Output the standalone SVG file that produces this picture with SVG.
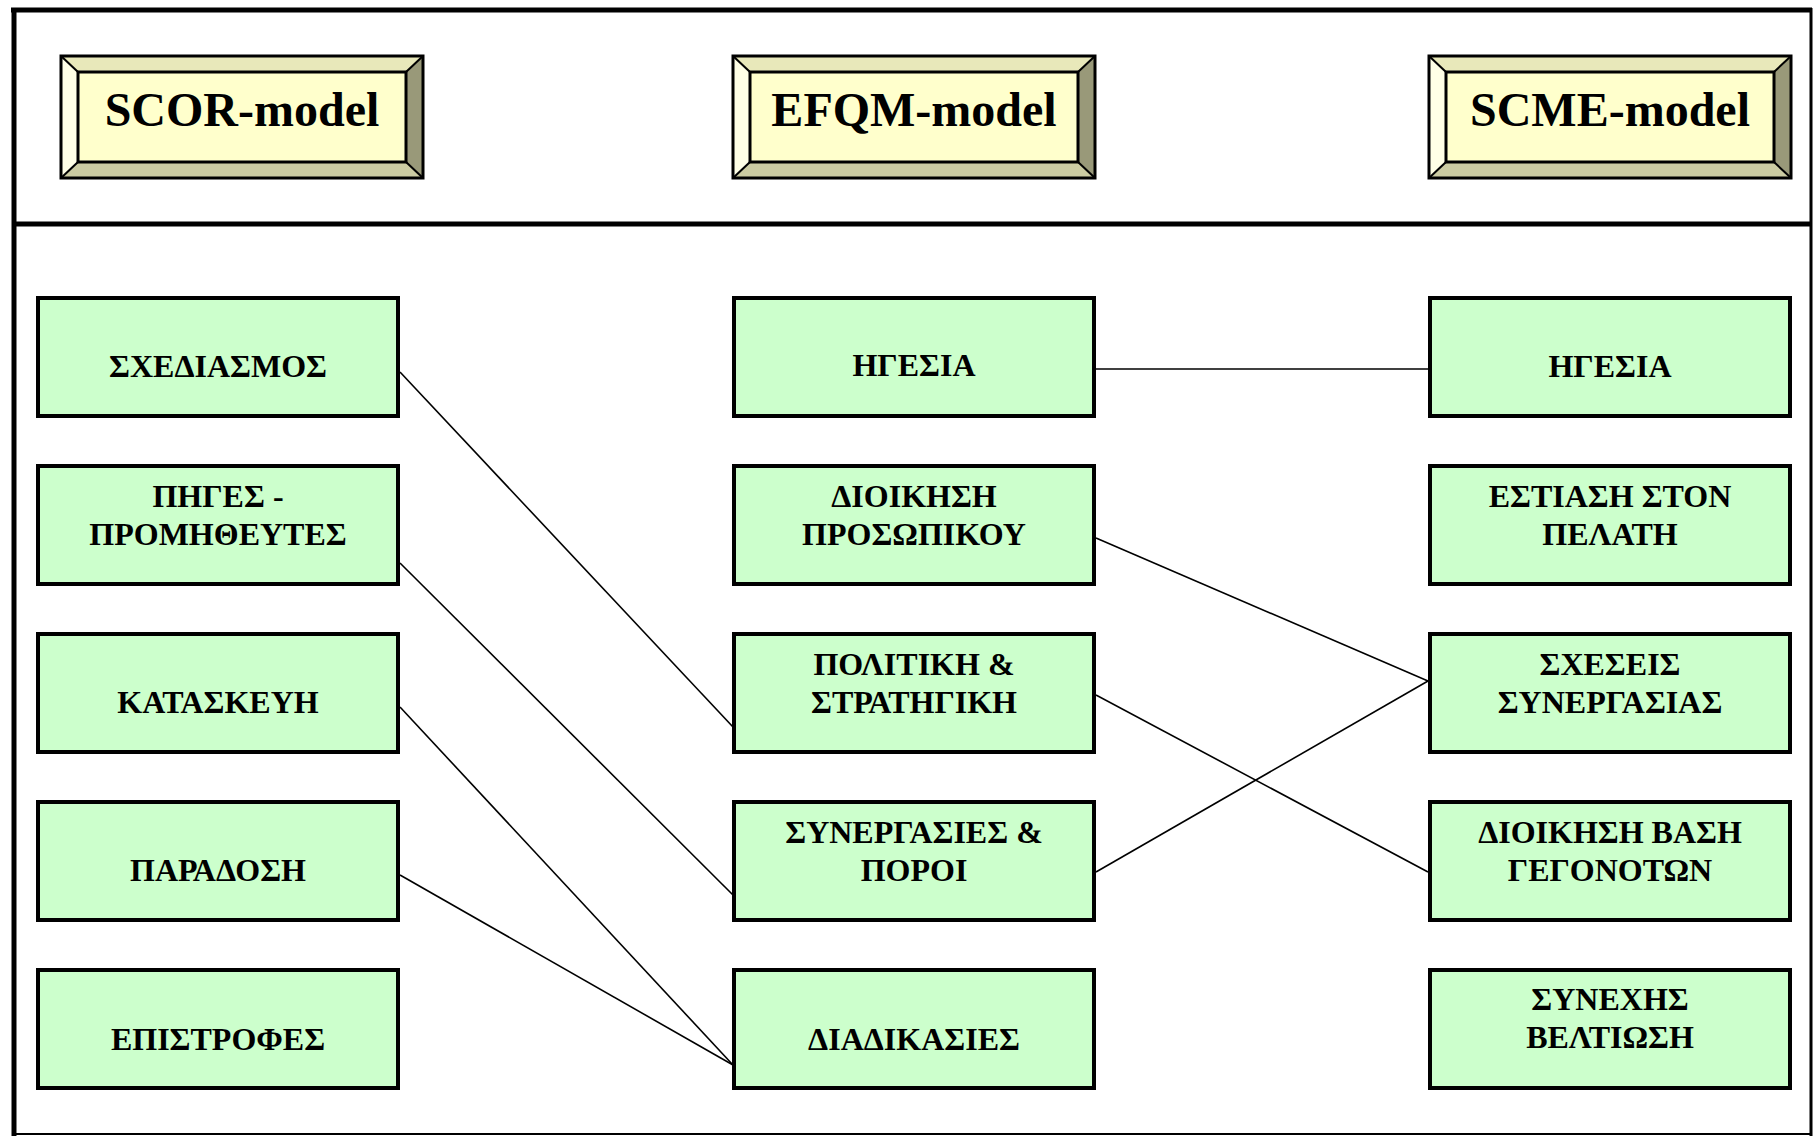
<svg xmlns="http://www.w3.org/2000/svg" width="1816" height="1136" viewBox="0 0 1816 1136">
<style>
.frame{stroke:#000;fill:none}
.box{fill:#CCFFCC;stroke:#000;stroke-width:4}
.lbl{font-family:"Liberation Serif","Times New Roman",serif;font-weight:bold;font-size:32px;text-anchor:middle;fill:#000}
.ttl{font-family:"Liberation Serif","Times New Roman",serif;font-weight:bold;font-size:48px;text-anchor:middle;fill:#000}
.face{fill:#FFFFCC;stroke:#000;stroke-width:3}
.bt{fill:#E8E8BA}
.bl{fill:#FFFFE6}
.br{fill:#999979}
.bb{fill:#CCCCA3}
.edge{stroke:#000;stroke-width:1.6;fill:none}
</style>
<defs>
<g id="bevel">
<polygon class="bt" points="0,0 362,0 345,16 17,16"/>
<polygon class="bl" points="0,0 17,16 17,106 0,122"/>
<polygon class="br" points="362,0 362,122 345,106 345,16"/>
<polygon class="bb" points="0,122 17,106 345,106 362,122"/>
<rect x="0" y="0" width="362" height="122" fill="none" stroke="#000" stroke-width="3"/>
<rect class="face" x="17" y="16" width="328" height="90"/>
<line x1="0" y1="0" x2="17" y2="16" stroke="#000" stroke-width="2"/>
<line x1="362" y1="0" x2="345" y2="16" stroke="#000" stroke-width="2"/>
<line x1="0" y1="122" x2="17" y2="106" stroke="#000" stroke-width="2"/>
<line x1="362" y1="122" x2="345" y2="106" stroke="#000" stroke-width="2"/>
</g>
</defs>
<rect x="0" y="0" width="1816" height="1136" fill="#fff"/>
<g id="frame">
<line class="frame" x1="11" y1="10" x2="1812" y2="10" stroke-width="5"/>
<line class="frame" x1="14" y1="8" x2="14" y2="1136" stroke-width="5"/>
<line class="frame" x1="1811" y1="8" x2="1811" y2="1136" stroke-width="3"/>
<line class="frame" x1="12" y1="224" x2="1812" y2="224" stroke-width="5"/>
<line class="frame" x1="12" y1="1134" x2="1812" y2="1134" stroke-width="2"/>
</g>
<g id="connectors">
<line class="edge" x1="1096" y1="369" x2="1428" y2="369"/>
<line class="edge" x1="400" y1="372" x2="733" y2="727"/>
<line class="edge" x1="400" y1="563" x2="733" y2="895"/>
<line class="edge" x1="400" y1="707" x2="733" y2="1065"/>
<line class="edge" x1="400" y1="875" x2="733" y2="1065"/>
<line class="edge" x1="1096" y1="538" x2="1428" y2="681"/>
<line class="edge" x1="1096" y1="695" x2="1428" y2="872"/>
<line class="edge" x1="1096" y1="872" x2="1428" y2="681"/>
</g>
<g id="h-scor"><use href="#bevel" x="61" y="56"/><text class="ttl" x="242" y="126">SCOR-model</text></g>
<g id="h-efqm"><use href="#bevel" x="733" y="56"/><text class="ttl" x="914" y="126">EFQM-model</text></g>
<g id="h-scme"><use href="#bevel" x="1429" y="56"/><text class="ttl" x="1610" y="126">SCME-model</text></g>

<g id="s1"><rect class="box" x="38" y="298" width="360" height="118"/><text class="lbl" x="218" y="377">ΣΧΕΔΙΑΣΜΟΣ</text></g>
<g id="s2"><rect class="box" x="38" y="466" width="360" height="118"/><text class="lbl" x="218" y="507">ΠΗΓΕΣ -</text><text class="lbl" x="218" y="545">ΠΡΟΜΗΘΕΥΤΕΣ</text></g>
<g id="s3"><rect class="box" x="38" y="634" width="360" height="118"/><text class="lbl" x="218" y="713">ΚΑΤΑΣΚΕΥΗ</text></g>
<g id="s4"><rect class="box" x="38" y="802" width="360" height="118"/><text class="lbl" x="218" y="881">ΠΑΡΑΔΟΣΗ</text></g>
<g id="s5"><rect class="box" x="38" y="970" width="360" height="118"/><text class="lbl" x="218" y="1050">ΕΠΙΣΤΡΟΦΕΣ</text></g>

<g id="e1"><rect class="box" x="734" y="298" width="360" height="118"/><text class="lbl" x="914" y="376">ΗΓΕΣΙΑ</text></g>
<g id="e2"><rect class="box" x="734" y="466" width="360" height="118"/><text class="lbl" x="914" y="507">ΔΙΟΙΚΗΣΗ</text><text class="lbl" x="914" y="545">ΠΡΟΣΩΠΙΚΟΥ</text></g>
<g id="e3"><rect class="box" x="734" y="634" width="360" height="118"/><text class="lbl" x="914" y="675">ΠΟΛΙΤΙΚΗ &amp;</text><text class="lbl" x="914" y="713">ΣΤΡΑΤΗΓΙΚΗ</text></g>
<g id="e4"><rect class="box" x="734" y="802" width="360" height="118"/><text class="lbl" x="914" y="843">ΣΥΝΕΡΓΑΣΙΕΣ &amp;</text><text class="lbl" x="914" y="881">ΠΟΡΟΙ</text></g>
<g id="e5"><rect class="box" x="734" y="970" width="360" height="118"/><text class="lbl" x="914" y="1050">ΔΙΑΔΙΚΑΣΙΕΣ</text></g>

<g id="m1"><rect class="box" x="1430" y="298" width="360" height="118"/><text class="lbl" x="1610" y="377">ΗΓΕΣΙΑ</text></g>
<g id="m2"><rect class="box" x="1430" y="466" width="360" height="118"/><text class="lbl" x="1610" y="507">ΕΣΤΙΑΣΗ ΣΤΟΝ</text><text class="lbl" x="1610" y="545">ΠΕΛΑΤΗ</text></g>
<g id="m3"><rect class="box" x="1430" y="634" width="360" height="118"/><text class="lbl" x="1610" y="675">ΣΧΕΣΕΙΣ</text><text class="lbl" x="1610" y="713">ΣΥΝΕΡΓΑΣΙΑΣ</text></g>
<g id="m4"><rect class="box" x="1430" y="802" width="360" height="118"/><text class="lbl" x="1610" y="843">ΔΙΟΙΚΗΣΗ ΒΑΣΗ</text><text class="lbl" x="1610" y="881">ΓΕΓΟΝΟΤΩΝ</text></g>
<g id="m5"><rect class="box" x="1430" y="970" width="360" height="118"/><text class="lbl" x="1610" y="1010">ΣΥΝΕΧΗΣ</text><text class="lbl" x="1610" y="1048">ΒΕΛΤΙΩΣΗ</text></g>
</svg>
